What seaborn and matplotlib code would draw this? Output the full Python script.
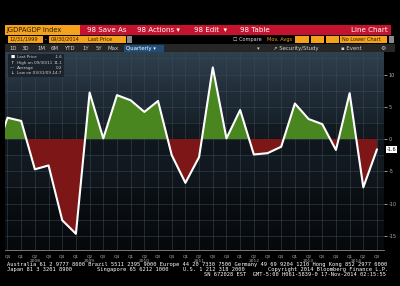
import numpy as np
import pandas as pd
import matplotlib
matplotlib.use("Agg")
import matplotlib.pyplot as plt
from matplotlib.patches import Rectangle
from matplotlib.colors import LinearSegmentedColormap
import seaborn as sns

# ---------------- data ----------------
quarters = ["Q3", "Q4",
            "Q1", "Q2", "Q3", "Q4",
            "Q1", "Q2", "Q3", "Q4",
            "Q1", "Q2", "Q3", "Q4",
            "Q1", "Q2", "Q3", "Q4",
            "Q1", "Q2", "Q3", "Q4",
            "Q1", "Q2", "Q3", "Q4",
            "Q1", "Q2", "Q3"]
years = [2007, 2007,
         2008, 2008, 2008, 2008,
         2009, 2009, 2009, 2009,
         2010, 2010, 2010, 2010,
         2011, 2011, 2011, 2011,
         2012, 2012, 2012, 2012,
         2013, 2013, 2013, 2013,
         2014, 2014, 2014]
gdp = [-3.0, 3.3,
       2.8, -4.7, -4.1, -12.6,
       -14.7, 7.2, 0.1, 6.8,
       6.0, 4.2, 5.9, -2.5,
       -6.8, -2.8, 11.1, 0.1,
       4.5, -2.4, -2.2, -1.2,
       5.5, 3.1, 2.3, -1.7,
       7.1, -7.5, -1.6]
year_labels = ["2008", "2009", "2010", "2011", "2012", "2013", "2014"]
y_ticks = [-15, -10, -5, 0, 5, 10]
legend_rows = [("\u25a0", "Last Price", "-1.6"),
               ("\u2191", "High on 09/30/11", "11.1"),
               ("\u2014", "Average", "0.2"),
               ("\u2193", "Low on 03/31/09", "-14.7")]

df = pd.DataFrame({"idx": np.arange(len(gdp)), "quarter": quarters,
                   "year": years, "value": gdp})

# ---------------- figure ----------------
sns.set_style("dark")
plt.rcParams["font.family"] = ["DejaVu Sans"]
W, H = 400, 286
fig = plt.figure(figsize=(W / 100, H / 100), dpi=100, facecolor="black")

bg = fig.add_axes([0, 0, 1, 1])
bg.set_xlim(0, W)
bg.set_ylim(H, 0)
bg.axis("off")
bg.set_facecolor("black")

def box(x0, y0, x1, y1, color, **kw):
    bg.add_patch(Rectangle((x0, y0), x1 - x0, y1 - y0, facecolor=color,
                           edgecolor="none", **kw))

def txt(x, y, s, color="white", size=5.5, ha="left", **kw):
    bg.text(x, y, s, color=color, fontsize=size, ha=ha, va="center", **kw)

ORANGE = "#f4a21c"
RED = "#c4122f"
DARK = "#2a1a00"
# header row 1
box(5, 25, 80, 34.5, ORANGE)
txt(6, 30, "JGDPAGDP Index", color=DARK, size=4.9)
box(80, 25, 391, 34.5, RED)
txt(87, 30, "98 Save As", size=5.1)
txt(137, 30, "98 Actions \u25be", size=5.1)
txt(194, 30, "98 Edit  \u25be", size=5.1)
txt(240, 30, "98 Table", size=5.1)
txt(388, 30, "Line Chart", size=5.1, ha="right")
# header row 2
box(8, 35.5, 43, 43, ORANGE)
txt(9.5, 39.3, "12/31/1999", color=DARK, size=3.6)
txt(45, 39.3, "-", size=3.6)
box(49, 35.5, 126, 43, ORANGE)
txt(51, 39.3, "09/30/2014", color=DARK, size=3.6)
txt(88, 39.3, "Last Price", color=DARK, size=3.6)
box(127, 35.5, 132, 43, "#8a8a8a")
txt(233, 39.3, "\u2610 Compare", color="#d8d8d8", size=3.6)
txt(267, 39.3, "Mov. Avgs", color=ORANGE, size=3.6)
box(295, 35.5, 309, 43, ORANGE)
box(310.5, 35.5, 324, 43, ORANGE)
box(325.5, 35.5, 339, 43, ORANGE)
box(340, 35.5, 387, 43, ORANGE)
txt(342, 39.3, "No Lower Chart", color=DARK, size=3.6)
box(389, 35.5, 394, 43, "#8a8a8a")
# header row 3
box(5, 44, 395, 52, "#262626")
for x, s in zip([9, 22, 37, 51, 64, 82, 96, 108],
                ["1D", "3D", "1M", "6M", "YTD", "1Y", "5Y", "Max"]):
    txt(x, 48.2, s, color="#d0d0d0", size=3.9)
box(124, 44.5, 164, 51.5, "#1f4e7a")
txt(126, 48.2, "Quarterly \u25be", color="white", size=3.9)
txt(257, 48.2, "\u25be", color="#d0d0d0", size=3.9)
txt(273, 48.2, "\u2197 Security/Study", color="#d0d0d0", size=3.9)
txt(341, 48.2, "\u25aa Event", color="#d0d0d0", size=3.9)
txt(380, 48.2, "\u2699", color="#d0d0d0", size=4.3)

# footer (monospaced, like the terminal)
mono = "DejaVu Sans Mono"
fsz = 3.85
txt(7, 264.7, "Australia 61 2 9777 8600 Brazil 5511 2395 9000 Europe 44 20 7330 7500 "
    "Germany 49 69 9204 1210 Hong Kong 852 2977 6000", size=fsz, family=mono)
txt(7, 269.8, "Japan 81 3 3201 8900", size=fsz, family=mono)
txt(97, 269.8, "Singapore 65 6212 1000", size=fsz, family=mono)
txt(183, 269.8, "U.S. 1 212 318 2000", size=fsz, family=mono)
txt(388, 269.8, "Copyright 2014 Bloomberg Finance L.P.", size=fsz, family=mono,
    ha="right")
txt(386, 274.7, "SN 672028 EST  GMT-5:00 H061-5839-0 17-Nov-2014 02:15:55",
    size=fsz, family=mono, ha="right")

# ---------------- chart axes ----------------
px_left, px_right, px_top, px_bot = 5, 384, 52, 250
ax = fig.add_axes([px_left / W, 1 - px_bot / H,
                   (px_right - px_left) / W, (px_bot - px_top) / H])
step = 13.685
x0 = 1 - (7.5 - px_left) / step
x1 = 1 + (px_right - 7.5) / step
y_top = (139 - px_top) / 6.45
y_bot = (139 - px_bot) / 6.45
ax.set_xlim(x0, x1)
ax.set_ylim(y_bot, y_top)

# background gradient
cmap = LinearSegmentedColormap.from_list(
    "bb", ["#06080a", "#0f151b", "#18222b", "#2f404e"])
grad = np.linspace(0, 1, 256).reshape(-1, 1)
ax.imshow(grad, extent=[x0, x1, y_bot, y_top], origin="lower",
          aspect="auto", cmap=cmap, zorder=0)
for yb in np.arange(2.5, -20, -10):
    ax.axhspan(yb - 5, yb, color="black", alpha=0.18, zorder=0.5, lw=0)

# grid
for i in range(1, 29):
    ax.axvline(i, color="#3a4a56", lw=0.45, alpha=0.8, zorder=1)
for yv in np.arange(-17.5, 14, 2.5):
    ax.axhline(yv, color="#3a4a56", lw=0.45, alpha=0.8, zorder=1)

xs = df["idx"].to_numpy(dtype=float)
vs = df["value"].to_numpy(dtype=float)
ax.fill_between(xs, vs, 0, where=vs >= 0, interpolate=True,
                color="#4a8620", lw=0, zorder=2)
ax.fill_between(xs, vs, 0, where=vs <= 0, interpolate=True,
                color="#7d1717", lw=0, zorder=2)
sns.lineplot(data=df, x="idx", y="value", ax=ax, color="white",
             lw=1.5, zorder=3, sort=False)

ax.set_xlabel("")
ax.set_ylabel("")
ax.grid(False)
for s in ["top", "left", "right"]:
    ax.spines[s].set_visible(False)
ax.spines["bottom"].set_color("#8a8a8a")
ax.spines["bottom"].set_linewidth(0.6)

ax.set_xticks(range(1, 29))
ax.set_xticklabels(quarters[1:])
ax.tick_params(axis="x", colors="#9a9a9a", labelsize=3.2, length=2.5,
               width=0.5, pad=0.8, labelcolor="#b0b0b0")
for yl in year_labels:
    pos = [i for i, (y, q) in enumerate(zip(years, quarters))
           if str(y) == yl and q == "Q2"][0]
    if yl == "2014":
        pos = pos - 0.5
    ax.text(pos, -0.045, yl, transform=ax.get_xaxis_transform(),
            color="#b0b0b0", fontsize=3.2, ha="center", va="top")

ax.yaxis.tick_right()
ax.set_yticks(y_ticks)
ax.set_yticklabels([str(v) for v in y_ticks])
ax.tick_params(axis="y", colors="#b0b0b0", labelsize=3.6, length=2,
               width=0.6, pad=1.5, direction="out")

# last price marker
ax.text(1.006, gdp[-1], f"{gdp[-1]:.1f}", transform=ax.get_yaxis_transform(),
        color="black", fontsize=3.6, ha="left", va="center",
        bbox=dict(boxstyle="square,pad=0.15", fc="white", ec="none"), zorder=5)

# legend box
lg = ax.inset_axes([3 / 379, 1 - 25 / 198, 56 / 379, 23 / 198])
lg.set_facecolor("#1b242c")
lg.set_xticks([])
lg.set_yticks([])
for s in lg.spines.values():
    s.set_visible(False)
lg.set_xlim(0, 1)
lg.set_ylim(0, 1)
for k, (sym, lab, val) in enumerate(legend_rows):
    yy = 0.86 - k * 0.23
    lg.text(0.04, yy, sym, color="white", fontsize=3.2, va="center")
    lg.text(0.16, yy, lab, color="#d0d0d0", fontsize=3.0, va="center")
    lg.text(0.97, yy, val, color="#d0d0d0", fontsize=3.0, va="center", ha="right")

fig.savefig("out.png", dpi=100, facecolor="black")
